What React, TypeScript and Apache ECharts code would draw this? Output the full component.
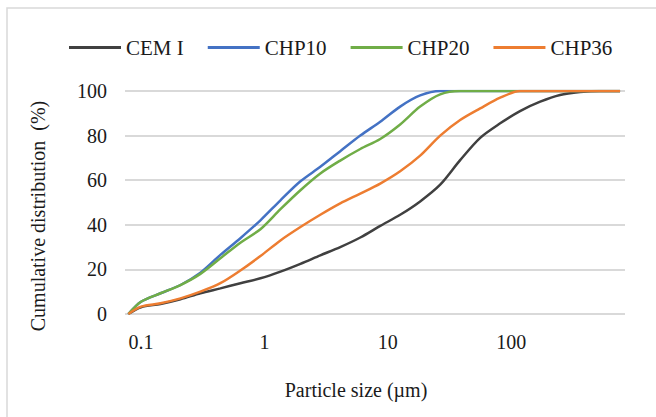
import { useEffect, useRef } from "react";
import * as echarts from "echarts";

// Particle size (µm)
const sizes = [0.079, 0.1, 0.144, 0.209, 0.303, 0.44, 0.639, 0.929, 1.35, 1.96, 2.84, 4.12, 5.99, 8.69, 12.6, 18.3, 26.6, 38.6, 56.1, 81.5, 118, 172, 249, 362, 526, 763];
// Cumulative distribution (%)
const cemI = [0, 3, 4.5, 6.6, 9.3, 11.5, 13.8, 16, 19, 22.5, 26.3, 30, 34.3, 39.5, 44.5, 50.5, 58, 69, 79, 85.5, 91, 95.2, 98.2, 99.5, 100, 100];
const chp10 = [0, 5.5, 9.3, 13, 18.5, 26.5, 34, 42, 51, 59.5, 66, 73, 80, 86.2, 93, 98, 100, 100, 100, 100, 100, 100, 100, 100, 100, 100];
const chp20 = [0, 5.5, 9.3, 13, 18, 25, 32, 38, 47, 55.5, 63, 68.8, 74, 78.5, 85, 93, 98.5, 100, 100, 100, 100, 100, 100, 100, 100, 100];
const chp36 = [0, 3.3, 4.8, 7, 10, 13.8, 19.5, 26, 33, 39, 44.5, 49.6, 54, 58.5, 64, 71, 80, 87, 92.2, 97, 100, 100, 100, 100, 100, 100];

const seriesNames = ["CEM I", "CHP10", "CHP20", "CHP36"];
const seriesValues = [cemI, chp10, chp20, chp36];
const seriesColors = ["#404040", "#4472C4", "#70AD47", "#ED7D31"];

const font = "'Liberation Serif', 'Times New Roman', serif";
const textColor = "#1a1a1a";

export default function App() {
  const ref = useRef<HTMLDivElement>(null);
  useEffect(() => {
    document.body.style.margin = "0";
    const chart = echarts.init(ref.current!, undefined, { renderer: "svg" });
    chart.setOption({
      animation: false,
      backgroundColor: "#ffffff",
      textStyle: { fontFamily: font },
      grid: { left: 125, right: 31, top: 91, bottom: 103, containLabel: false },
      legend: {
        data: seriesNames,
        left: 64,
        top: 32,
        icon: "rect",
        itemWidth: 52,
        itemHeight: 3,
        itemGap: 24,
        textStyle: { fontFamily: font, fontSize: 21, color: textColor },
      },
      xAxis: {
        type: "log",
        logBase: 10,
        min: 0.0742,
        max: 837,
        splitNumber: 4,
        axisLine: { show: false },
        axisTick: { show: false },
        splitLine: { show: false },
        axisLabel: {
          showMinLabel: false,
          showMaxLabel: false,
          margin: 18,
          fontFamily: font,
          fontSize: 20,
          color: textColor,
          formatter: (v: number) => String(Number(v.toPrecision(3))),
        },
      },
      yAxis: {
        type: "value",
        min: 0,
        max: 100,
        interval: 20,
        axisLine: { show: false },
        axisTick: { show: false },
        splitLine: { lineStyle: { color: "#d9d9d9", width: 2 } },
        axisLabel: { margin: 18, fontFamily: font, fontSize: 20, color: textColor },
      },
      graphic: [
        {
          type: "rect",
          shape: { x: 7, y: 8, width: 800, height: 600 },
          style: { fill: "none", stroke: "#d9d9d9", lineWidth: 1.5 },
          silent: true,
        },
        {
          type: "text",
          x: 38,
          y: 216,
          rotation: Math.PI / 2,
          style: {
            text: "Cumulative distribution  (%)",
            fontFamily: font,
            fontSize: 20,
            fill: textColor,
            align: "center",
            verticalAlign: "middle",
          },
        },
        {
          type: "text",
          x: 356,
          y: 390,
          style: {
            text: "Particle size (µm)",
            fontFamily: font,
            fontSize: 20,
            fill: textColor,
            align: "center",
            verticalAlign: "middle",
          },
        },
      ],
      series: seriesNames.map((name, i) => ({
        name,
        type: "line",
        data: sizes.map((s, j) => [s, seriesValues[i][j]]),
        showSymbol: false,
        symbol: "none",
        smooth: 0.3,
        lineStyle: { color: seriesColors[i], width: 2.5 },
        itemStyle: { color: seriesColors[i] },
      })),
    });
    return () => chart.dispose();
  }, []);
  return <div ref={ref} style={{ width: 656, height: 417 }} />;
}
